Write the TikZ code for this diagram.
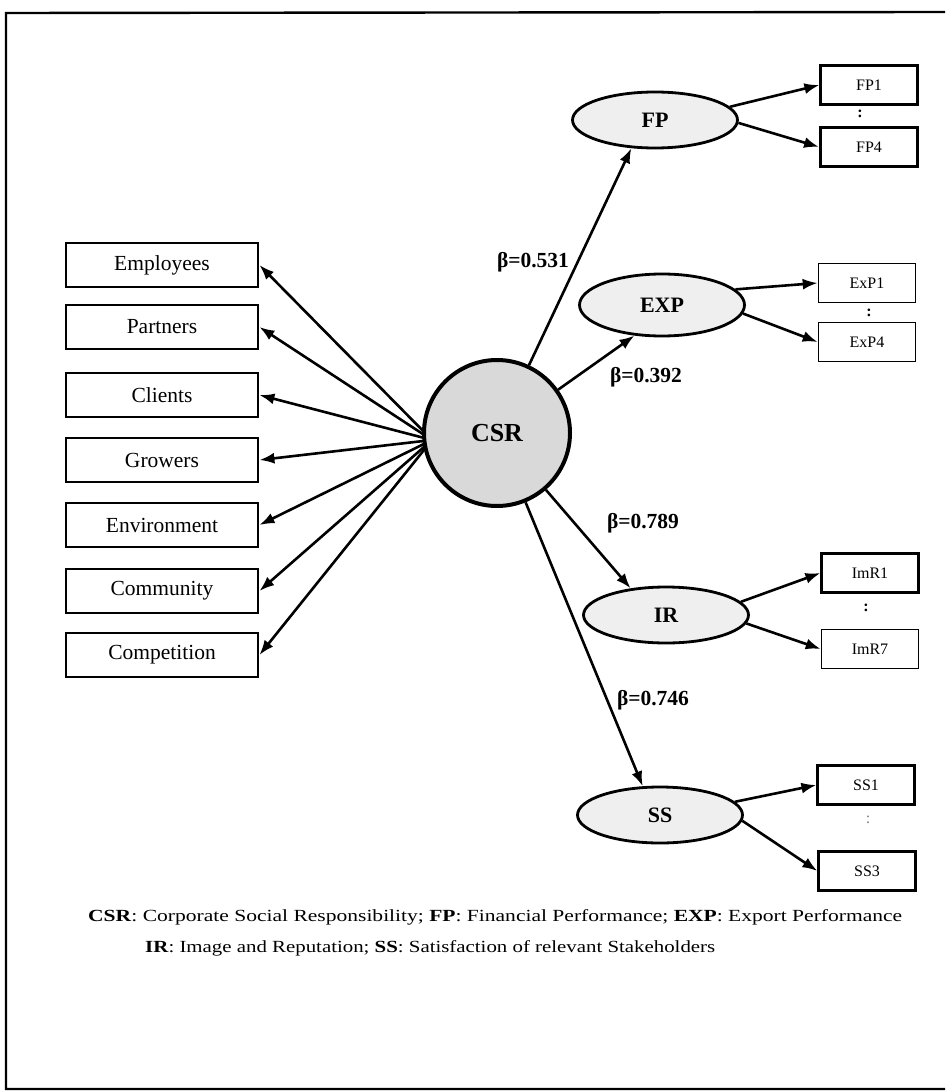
\documentclass[tikz,border=0pt]{standalone}
\usepackage{fontspec}
\setmainfont{Liberation Serif}
\usetikzlibrary{arrows.meta,shapes.geometric}
\definecolor{latfill}{HTML}{EFEFEF}
\definecolor{csrfill}{HTML}{D9D9D9}
\begin{document}
\begin{tikzpicture}[x=1pt,y=-1pt,
  lbox/.style={draw,line width=2.8pt,minimum width=192pt,minimum height=44pt,inner sep=0pt,font=\fontsize{21.5}{24}\selectfont},
  sbox/.style={draw,line width=2.2pt,minimum width=97pt,minimum height=39pt,inner sep=0pt,font=\fontsize{16}{19}\selectfont},
  lat/.style={ellipse,draw,line width=2.8pt,fill=latfill,minimum width=165pt,minimum height=56pt,inner sep=0pt,font=\bfseries\fontsize{22}{25}\selectfont},
  arr/.style={line width=2.6pt,-{Latex[length=15pt,width=11pt]}},
  beta/.style={font=\bfseries\fontsize{21.5}{25}\selectfont},
  dots/.style={font=\bfseries\fontsize{16}{19}\selectfont},
]
\useasboundingbox (0,0) rectangle (945,1091);
% frame
\draw[line width=2.4pt] (945,12) -- (6,13) -- (6,1089) -- (945,1089);

% left boxes
\node[lbox] (emp) at (162,265) {Employees};
\node[lbox] (par) at (162,327) {Partners};
\node[lbox] (cli) at (162,395) {Clients};
\node[lbox] (gro) at (162,460) {Growers};
\node[lbox] (env) at (162,525) {Environment};
\node[lbox] (com) at (162,591) {Community};
\node[lbox] (cmp) at (162,655) {Competition};

\coordinate (hub) at (432,440);
\foreach \b in {emp,par,cli,gro,env,com,cmp}{
  \draw[arr] (hub) -- (\b.east);
}

% CSR
\node[circle,draw,line width=4pt,fill=csrfill,minimum size=146pt,inner sep=0pt,font=\bfseries\fontsize{26}{30}\selectfont] (csr) at (497,433) {CSR};

% latents
\node[lat] (fp) at (655,120) {FP};
\node[lat,minimum height=62pt] (exp) at (662,305) {EXP};
\node[lat] (ir) at (666,615) {IR};
\node[lat] (ss) at (660,815) {SS};

% indicators
\node[sbox] (fp1) at (869,85) {FP1};
\node[sbox,line width=2.8pt] (fp4) at (869,147) {FP4};
\node[dots] (fpd) at (860,114) {:};
\node[sbox,line width=1.6pt] (exp1) at (867,283) {ExP1};
\node[sbox,line width=1.6pt] (exp4) at (867,342) {ExP4};
\node[dots] (expd) at (869,313) {:};
\node[sbox] (imr1) at (870,573) {ImR1};
\node[sbox,line width=1.6pt] (imr7) at (870,649) {ImR7};
\node[dots] (imrd) at (866,608) {:};
\node[sbox] (ss1) at (866,785) {SS1};
\node[sbox] (ss3) at (867,871) {SS3};
\node[font=\fontsize{16}{19}\selectfont,text=gray] (ssd) at (868,820) {:};

\draw[arr] (fp.10) -- (fp1.west);
\draw[arr] (fp.-2) -- (fp4.west);
\draw[arr] (exp.12) -- (exp1.west);
\draw[arr] (exp.-6) -- (exp4.west);
\draw[arr] (ir.10) -- (imr1.west);
\draw[arr] (ir.-6) -- (imr7.west);
\draw[arr] (ss.10) -- (ss1.west);
\draw[arr] (ss.-4) -- (ss3.west);

% CSR paths
\draw[arr] (csr) -- (fp.230);
\draw[arr] (csr) -- (exp.228);
\draw[arr] (csr) -- (ir.143);
\draw[arr] (csr) -- (ss.121);

\node[beta] (b1) at (533,262) {β=0.531};
\node[beta] (b2) at (646,377) {β=0.392};
\node[beta] (b3) at (643,523) {β=0.789};
\node[beta] (b4) at (653,700) {β=0.746};

% legend
\node[anchor=west,inner sep=0pt,font=\fontsize{17}{20}\selectfont] (leg1) at (88,917)
  {\resizebox{814pt}{\height}{\textbf{CSR}: Corporate Social Responsibility; \textbf{FP}: Financial Performance; \textbf{EXP}: Export Performance}};
\node[anchor=west,inner sep=0pt,font=\fontsize{17}{20}\selectfont] (leg2) at (145,948)
  {\resizebox{570pt}{\height}{\textbf{IR}: Image and Reputation; \textbf{SS}: Satisfaction of relevant Stakeholders}};
\end{tikzpicture}
\end{document}
